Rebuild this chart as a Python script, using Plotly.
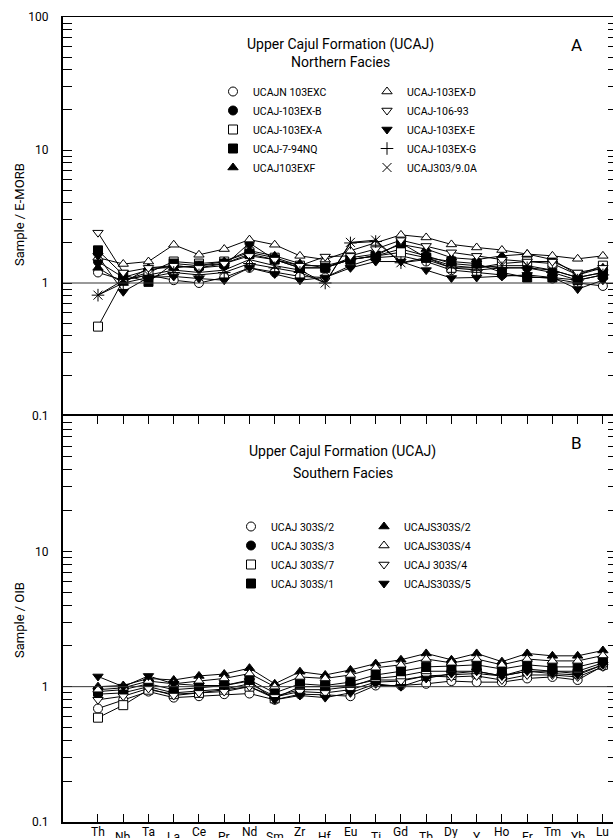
import plotly.graph_objects as go

# ---------------- data ----------------
elements = ["Th", "Nb", "Ta", "La", "Ce", "Pr", "Nd", "Sm", "Zr", "Hf", "Eu",
            "Ti", "Gd", "Tb", "Dy", "Y", "Ho", "Er", "Tm", "Yb", "Lu"]

north_names = ["UCAJN 103EXC", "UCAJ-103EX-B", "UCAJ-103EX-A", "UCAJ-7-94NQ", "UCAJ103EXF",
               "UCAJ-103EX-D", "UCAJ-106-93", "UCAJ-103EX-E", "UCAJ-103EX-G", "UCAJ303/9.0A"]
n_103exc = [1.2, 1.05, 1.15, 1.05, 1.0, 1.1, 1.3, 1.2, 1.12, 1.1, 1.35, 1.55, 1.6, 1.45, 1.25, 1.2, 1.15, 1.12, 1.08, 1.0, 0.95]
n_103ex_b = [1.45, 1.1, 1.25, 1.35, 1.3, 1.35, 2.0, 1.5, 1.3, 1.3, 1.5, 1.6, 1.8, 1.6, 1.4, 1.35, 1.3, 1.3, 1.25, 1.1, 1.2]
n_103ex_a = [0.47, 1.05, 1.2, 1.45, 1.4, 1.45, 1.7, 1.55, 1.35, 1.35, 1.5, 1.6, 1.7, 1.55, 1.3, 1.3, 1.4, 1.45, 1.4, 1.15, 1.35]
n_7_94nq = [1.76, 1.15, 1.02, 1.4, 1.35, 1.4, 1.65, 1.5, 1.3, 1.3, 1.5, 1.6, 2.0, 1.55, 1.45, 1.4, 1.2, 1.1, 1.1, 1.05, 1.15]
n_103exf = [1.3, 1.0, 1.3, 1.3, 1.35, 1.45, 1.75, 1.6, 1.4, 1.3, 1.55, 1.65, 1.95, 1.8, 1.55, 1.5, 1.6, 1.65, 1.5, 1.15, 1.3]
n_103ex_d = [1.55, 1.39, 1.45, 1.94, 1.63, 1.8, 2.12, 1.94, 1.6, 1.5, 1.75, 2.0, 2.3, 2.2, 1.95, 1.85, 1.77, 1.65, 1.6, 1.52, 1.6]
n_106_93 = [2.39, 1.2, 1.3, 1.35, 1.3, 1.4, 1.6, 1.5, 1.35, 1.58, 1.6, 1.8, 2.1, 1.9, 1.7, 1.6, 1.5, 1.45, 1.45, 1.2, 1.3]
n_103ex_e = [1.6, 0.86, 1.1, 1.12, 1.08, 1.05, 1.3, 1.17, 1.05, 1.1, 1.3, 1.45, 1.45, 1.25, 1.09, 1.1, 1.12, 1.15, 1.1, 0.9, 1.05]
n_103ex_g = [0.81, 1.0, 1.1, 1.2, 1.15, 1.2, 1.4, 1.3, 1.2, 1.0, 2.0, 2.05, 1.42, 1.5, 1.3, 1.25, 1.3, 1.3, 1.2, 1.05, 1.15]
n_303_9_0a = [0.81, 1.05, 1.15, 1.25, 1.2, 1.25, 1.5, 1.35, 1.25, 1.0, 2.02, 2.1, 1.42, 1.55, 1.35, 1.3, 1.35, 1.35, 1.25, 1.1, 1.2]
north_values = [n_103exc, n_103ex_b, n_103ex_a, n_7_94nq, n_103exf,
                n_103ex_d, n_106_93, n_103ex_e, n_103ex_g, n_303_9_0a]

south_names = ["UCAJ 303S/2", "UCAJ 303S/3", "UCAJ 303S/7", "UCAJ 303S/1",
               "UCAJS303S/2", "UCAJS303S/4", "UCAJ 303S/4", "UCAJS303S/5"]
s_303s_2 = [0.69, 0.8, 0.92, 0.83, 0.85, 0.88, 0.89, 0.8, 0.88, 0.87, 0.85, 1.02, 1.02, 1.05, 1.1, 1.08, 1.08, 1.15, 1.18, 1.12, 1.42]
s_303s_3 = [0.88, 0.9, 1.0, 0.9, 0.93, 0.96, 1.05, 0.85, 0.95, 0.95, 1.0, 1.15, 1.2, 1.3, 1.3, 1.3, 1.2, 1.35, 1.3, 1.3, 1.5]
s_303s_7 = [0.59, 0.73, 0.95, 0.88, 0.9, 0.95, 1.0, 0.82, 1.0, 1.0, 1.02, 1.12, 1.12, 1.2, 1.22, 1.25, 1.2, 1.3, 1.3, 1.25, 1.45]
s_303s_1 = [0.92, 0.95, 1.05, 0.95, 0.98, 1.02, 1.12, 0.9, 1.05, 1.02, 1.08, 1.22, 1.3, 1.4, 1.42, 1.45, 1.35, 1.45, 1.4, 1.4, 1.55]
s_s303s_2 = [1.0, 1.02, 1.15, 1.12, 1.2, 1.24, 1.37, 1.05, 1.29, 1.22, 1.33, 1.48, 1.58, 1.76, 1.58, 1.76, 1.53, 1.76, 1.69, 1.69, 1.85]
s_s303s_4 = [0.95, 0.98, 1.1, 1.05, 1.1, 1.15, 1.25, 1.0, 1.18, 1.15, 1.22, 1.38, 1.45, 1.6, 1.5, 1.6, 1.45, 1.6, 1.55, 1.55, 1.7]
s_303s_4 = [0.8, 0.85, 0.97, 0.86, 0.9, 0.92, 1.0, 0.84, 0.92, 0.9, 0.95, 1.08, 1.1, 1.2, 1.18, 1.2, 1.12, 1.22, 1.22, 1.18, 1.4]
s_s303s_5 = [1.19, 1.0, 1.2, 1.05, 1.02, 1.02, 1.1, 0.8, 0.86, 0.83, 0.9, 1.05, 1.0, 1.15, 1.25, 1.3, 1.2, 1.3, 1.25, 1.22, 1.45]
south_values = [s_303s_2, s_303s_3, s_303s_7, s_303s_1,
                s_s303s_2, s_s303s_4, s_303s_4, s_s303s_5]

ytick_vals = [0.1, 1, 10, 100]
ytick_text = ["0.1", "1", "10", "100"]

# ---------------- styles ----------------
FONT = "Roboto, 'Noto Sans', sans-serif"
north_styles = [("circle", "white"), ("circle", "black"), ("square", "white"), ("square", "black"),
                ("triangle-up", "black"), ("triangle-up", "white"), ("triangle-down", "white"),
                ("triangle-down", "black"), ("cross-thin", "black"), ("x-thin", "black")]
south_styles = [("circle", "white"), ("circle", "black"), ("square", "white"), ("square", "black"),
                ("triangle-up", "black"), ("triangle-up", "white"), ("triangle-down", "white"),
                ("triangle-down", "black")]

xidx = list(range(len(elements)))
fig = go.Figure()


def marker(sym, fill, size):
    return dict(symbol=sym, size=size, color=fill, line=dict(color="black", width=1))


def add_panel(names, values, styles, xa, ya, leg_a, leg_b, ncol1):
    for nm, vals, (sym, fill) in zip(names, values, styles):
        fig.add_trace(go.Scatter(x=xidx, y=vals, mode="lines+markers", xaxis=xa, yaxis=ya,
                                 line=dict(color="black", width=1), marker=marker(sym, fill, 9),
                                 showlegend=False, name=nm))
    for k, (nm, (sym, fill)) in enumerate(zip(names, styles)):
        fig.add_trace(go.Scatter(x=[None], y=[None], mode="markers", xaxis=xa, yaxis=ya,
                                 marker=marker(sym, fill, 9), name=nm,
                                 legend=leg_a if k < ncol1 else leg_b, showlegend=True))


add_panel(north_names, north_values, north_styles, "x", "y", "legend", "legend2", 5)
add_panel(south_names, south_values, south_styles, "x2", "y2", "legend3", "legend4", 4)

W, H = 616, 838
L, R, T, B = 63, 3, 17, 16
pw = W - L - R
ph = H - T - B
split = (H - B - 416) / ph
xr = [-1.386, 20.4]


def px(xp):
    return (xp - L) / pw


def py(yp):
    return (H - B - yp) / ph


leg_common = dict(font=dict(family=FONT, size=10.5, color="black"), bgcolor="rgba(0,0,0,0)",
                  xanchor="left", yanchor="top", itemwidth=30, tracegroupgap=0)

yax_common = dict(type="log", range=[-1, 2], tickvals=ytick_vals, ticks="inside", ticklen=9,
                  tickcolor="black", tickwidth=1, showgrid=False, zeroline=False,
                  showline=True, linecolor="black", linewidth=2,
                  tickfont=dict(family=FONT, size=12, color="black"), ticklabelstandoff=10,
                  minor=dict(dtick="D1", ticks="inside", ticklen=9, tickcolor="black",
                             tickwidth=1, showgrid=False))
yax_right = dict(type="log", range=[-1, 2], tickvals=ytick_vals, ticks="inside", ticklen=6,
                 tickcolor="black", showgrid=False, zeroline=False, showticklabels=False,
                 showline=False, side="right",
                 minor=dict(dtick="D1", ticks="inside", ticklen=5, tickcolor="black", showgrid=False))

fig.update_layout(
    width=W, height=H, margin=dict(l=L, r=R, t=T, b=B, pad=0, autoexpand=False),
    paper_bgcolor="white", plot_bgcolor="white",
    font=dict(family=FONT, color="black"),
    xaxis=dict(domain=[0, 1], anchor="y", range=xr, tickvals=xidx, showticklabels=False,
               ticks="", showgrid=False, zeroline=False, side="top",
               showline=True, linecolor="black", linewidth=1),
    xaxis2=dict(domain=[0, 1], anchor="y2", range=xr, tickvals=xidx, showticklabels=False,
                ticks="inside", ticklen=8, tickcolor="black", showgrid=False, zeroline=False,
                showline=True, linecolor="black", linewidth=2, mirror="ticks"),
    yaxis=dict(domain=[split, 1], anchor="x", ticktext=ytick_text, **yax_common),
    yaxis2=dict(domain=[0, split], anchor="x2", ticktext=ytick_text[:3] + [""], **yax_common),
    yaxis3=dict(overlaying="y", anchor="x", **yax_right),
    yaxis4=dict(overlaying="y2", anchor="x2", **yax_right),
    legend=dict(x=px(213), y=py(77), **leg_common),
    legend2=dict(x=px(367), y=py(77), **leg_common),
    legend3=dict(x=px(231), y=py(512), **leg_common),
    legend4=dict(x=px(364), y=py(512), **leg_common),
)

# invisible traces to activate the right-hand axes
fig.add_trace(go.Scatter(x=[None], y=[None], xaxis="x", yaxis="y3", showlegend=False))
fig.add_trace(go.Scatter(x=[None], y=[None], xaxis="x2", yaxis="y4", showlegend=False))

# reference line at 1
for xd, yr in [("x domain", "y"), ("x2 domain", "y2")]:
    fig.add_shape(type="line", xref=xd, yref=yr, x0=0, x1=1, y0=1, y1=1,
                  line=dict(color="#333", width=1))

tf = dict(family=FONT, size=14, color="black")
ann = [dict(text="Upper Cajul Formation (UCAJ)", x=px(340), y=py(44), font=tf),
       dict(text="Northern Facies", x=px(340), y=py(62), font=tf),
       dict(text="A", x=px(576), y=py(45), font=dict(family=FONT, size=17, color="black")),
       dict(text="Upper Cajul Formation (UCAJ)", x=px(343), y=py(451), font=tf),
       dict(text="Southern Facies", x=px(343), y=py(473), font=tf),
       dict(text="B", x=px(576), y=py(443), font=dict(family=FONT, size=17, color="black")),
       dict(text="Sample / E-MORB", x=px(20), y=py(215), textangle=-90,
            font=dict(family=FONT, size=13, color="black")),
       dict(text="Sample / OIB", x=px(20), y=py(620), textangle=-90,
            font=dict(family=FONT, size=13, color="black"))]
for a in ann:
    a.update(xref="paper", yref="paper", showarrow=False, xanchor="center", yanchor="middle")
    fig.add_annotation(**a)

for i, el in enumerate(elements):
    fig.add_annotation(text=el, x=i, xref="x2", y=0, yref="paper", showarrow=False,
                       xanchor="center", yanchor="top", yshift=-1 if i % 2 == 0 else -6,
                       font=dict(family=FONT, size=12, color="black"))

fig.write_html("out.html", config={"displayModeBar": False},
               post_script="document.body.style.margin='0';document.body.style.overflow='hidden';")
